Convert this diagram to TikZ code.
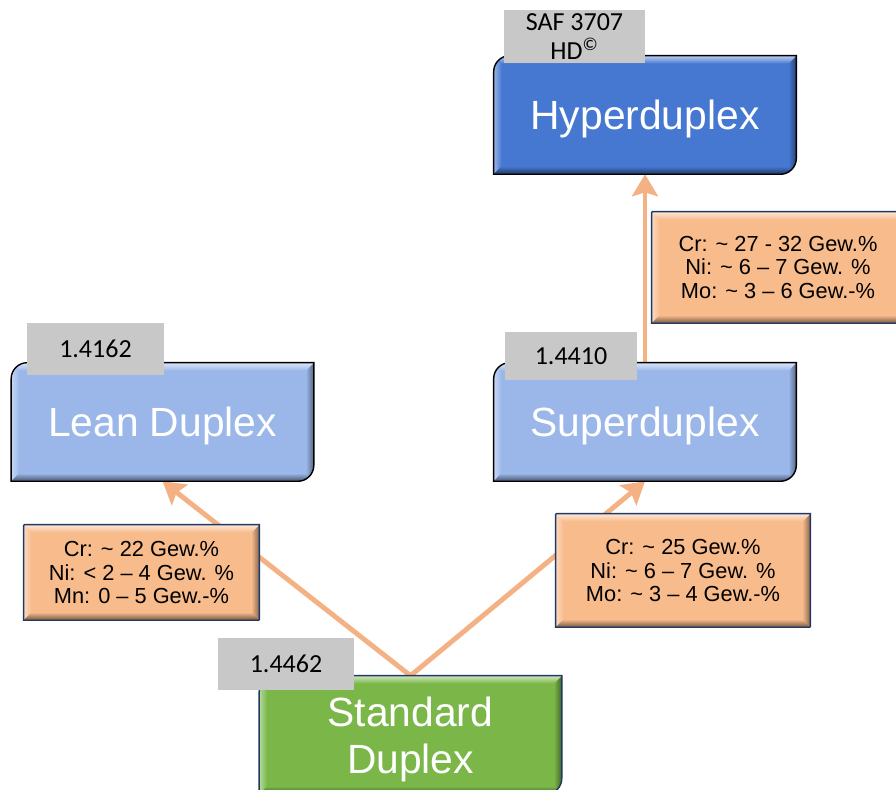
\documentclass[tikz,border=0pt]{standalone}
\usepackage{fontspec}
\setmainfont{Liberation Sans}
\newfontfamily\labelfont{Carlito}
\usetikzlibrary{arrows.meta}

\definecolor{hyperblue}{HTML}{4678D2}
\definecolor{paleblue}{HTML}{9BB7EA}
\definecolor{duplexgreen}{HTML}{7AB748}
\definecolor{mixorange}{HTML}{F8BB8C}
\definecolor{linkorange}{HTML}{F4B183}
\definecolor{labelgray}{HTML}{C8C8C8}
\definecolor{edgenavy}{HTML}{203864}

\pgfdeclarelayer{arrowlayer}
\pgfdeclarelayer{boxlayer}
\pgfsetlayers{arrowlayer,boxlayer,main}

% width of the bevelled rim
\def\bw{0.2cm}

% outline: top left and bottom right corners rounded
\newcommand{\boxpath}[2]{(#1.south west) -- ([yshift=-#2]#1.north west)
  arc[start angle=180, end angle=90, radius=#2] -- (#1.north east)
  -- ([yshift=#2]#1.south east) arc[start angle=0, end angle=-90, radius=#2] -- cycle}

% bevelled fill behind node #1: colour #2, radius #3, border #4
\newcommand{\bevel}[4]{%
  \begin{scope}
    \clip \boxpath{#1}{#3};
    \fill[#2] (#1.south west) rectangle (#1.north east);
    \shade[left color=#2!55!white, right color=#2] (#1.south west) -- ([shift={(\bw,\bw)}]#1.south west)
      -- ([shift={(\bw,-\bw)}]#1.north west) -- (#1.north west) -- cycle;
    \shade[left color=#2, right color=#2!55!black] (#1.south east) -- (#1.north east)
      -- ([shift={(-\bw,-\bw)}]#1.north east) -- ([shift={(-\bw,\bw)}]#1.south east) -- cycle;
    \shade[top color=#2!35!white, bottom color=#2] (#1.north west) -- (#1.north east)
      -- ([shift={(-\bw,-\bw)}]#1.north east) -- ([shift={(\bw,-\bw)}]#1.north west) -- cycle;
    \shade[top color=#2, bottom color=#2!45!black] (#1.south west) -- (#1.south east)
      -- ([shift={(-\bw,\bw)}]#1.south east) -- ([shift={(\bw,\bw)}]#1.south west) -- cycle;
  \end{scope}
  \draw[#4, line width=1pt] \boxpath{#1}{#3};}

\begin{document}
\begin{tikzpicture}[x=0.025cm, y=0.025cm,
    gradebox/.style={minimum width=7.55cm, minimum height=2.95cm, inner sep=0pt, align=center,
      text=white, text depth=0pt, font=\fontsize{29}{33.5}\selectfont},
    numbox/.style={fill=labelgray, minimum width=3.4cm, minimum height=1.3cm, inner sep=0pt,
      align=center, font=\labelfont\fontsize{18.5}{20.5}\selectfont},
    compbox/.style={inner sep=0pt, align=center, font=\fontsize{15.5}{16.5}\selectfont},
    link/.style={draw=linkorange, line width=3.5pt, -{Stealth[length=0.55cm, width=0.65cm, inset=0.1cm]}}]

    \useasboundingbox (0,0) rectangle (896,790);

    % grades
    \node[gradebox] (hyper)    at (645,675)   {Hyperduplex};
    \node[gradebox] (lean)     at (162.5,368) {Lean Duplex};
    \node[gradebox] (super)    at (645,368)   {Superduplex};
    \node[gradebox] (standard) at (410.5,55)  {Standard\\Duplex};

    % compositions
    \node[compbox, minimum width=5.875cm, minimum height=2.375cm] (leanmix) at (141.5,217.5)
        {Cr: \textasciitilde{} 22 Gew.\%\\Ni: < 2 – 4 Gew. \%\\Mn: 0 – 5 Gew.-\%};
    \node[compbox, minimum width=6.35cm, minimum height=2.825cm] (supermix) at (683,219.5)
        {Cr: \textasciitilde{} 25 Gew.\%\\Ni: \textasciitilde{} 6 – 7 Gew. \%\\Mo: \textasciitilde{} 3 – 4 Gew.-\%};
    \node[compbox, minimum width=6.3cm, minimum height=2.775cm] (hypermix) at (778,522.5)
        {Cr: \textasciitilde{} 27 - 32 Gew.\%\\Ni: \textasciitilde{} 6 – 7 Gew. \%\\Mo: \textasciitilde{} 3 – 6 Gew.-\%};

    % material numbers
    \node[numbox, minimum width=3.525cm, minimum height=1.325cm] (hyperno) at (574.5,753.5) {SAF 3707\\HD\textsuperscript{©}};
    \node[numbox] (leanno) at (95.5,441) {1.4162};
    \node[numbox, minimum width=3.3cm, minimum height=1.2cm] (superno) at (571,434) {1.4410};
    \node[numbox] (standardno) at (286,126) {1.4462};

    \begin{pgfonlayer}{boxlayer}
        \bevel{hyper}{hyperblue}{0.4cm}{black}
        \bevel{lean}{paleblue}{0.4cm}{black}
        \bevel{super}{paleblue}{0.4cm}{black}
        \bevel{standard}{duplexgreen}{0.4cm}{edgenavy}
        \bevel{leanmix}{mixorange}{0.5pt}{edgenavy}
        \bevel{supermix}{mixorange}{0.5pt}{edgenavy}
        \bevel{hypermix}{mixorange}{0.5pt}{edgenavy}
    \end{pgfonlayer}

    \begin{pgfonlayer}{arrowlayer}
        \draw[link] (standard.north) -- (lean.south);
        \draw[link] (standard.north) -- (super.south);
        \draw[link] (super.north) -- (hyper.south);
    \end{pgfonlayer}

\end{tikzpicture}
\end{document}
